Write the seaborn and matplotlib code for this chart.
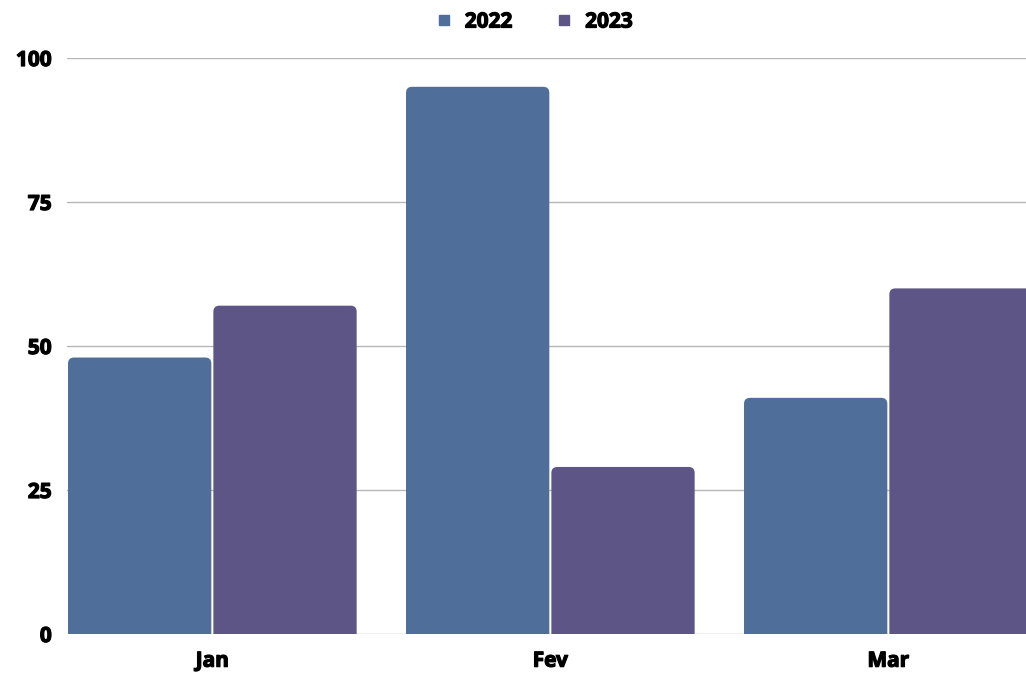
import matplotlib
matplotlib.use("Agg")
import matplotlib.pyplot as plt
import matplotlib.patheffects as pe
import seaborn as sns
import pandas as pd
from matplotlib.patches import FancyBboxPatch
from matplotlib.lines import Line2D
from matplotlib.font_manager import FontProperties

months = ["Jan", "Fev", "Mar"]
values_2022 = [48, 95, 41]
values_2023 = [57, 29, 60]
years = ["2022", "2023"]
y_ticks = [0, 25, 50, 75, 100]

colors = {"2022": "#4f6e99", "2023": "#5e5587"}

df = pd.DataFrame({
    "month": months * 2,
    "year": [years[0]] * 3 + [years[1]] * 3,
    "value": values_2022 + values_2023,
})

sns.set_style("white")
plt.rcParams["font.family"] = ["Open Sans", "DejaVu Sans"]
plt.rcParams["text.color"] = "black"

fp = FontProperties(family=["Open Sans", "DejaVu Sans"], weight="bold",
                    stretch="normal", size=15)
thick = [pe.withStroke(linewidth=0.9, foreground="black")]

fig = plt.figure(figsize=(10.26, 6.73), dpi=100)
ax = fig.add_axes([67 / 1026, 39 / 673, 959 / 1026, 576 / 673])

sns.barplot(data=df, x="month", y="value", hue="year", palette=colors,
            width=0.86, ax=ax, legend=False, saturation=1)

# swap plain bars for bars with rounded tops
r_px_x, r_px_y = 6 / 338, 6 / 5.76
for p in list(ax.patches):
    x, w, h = p.get_x(), p.get_width(), p.get_height()
    fc = p.get_facecolor()
    p.set_visible(False)
    rb = FancyBboxPatch((x + 0.003, -r_px_y * 2), w - 0.006, h + r_px_y * 2,
                        boxstyle=f"round,pad=0,rounding_size={r_px_x}",
                        mutation_aspect=r_px_y / r_px_x,
                        facecolor=fc, edgecolor="none", zorder=3)
    ax.add_patch(rb)

ax.set_xlim(-0.43, -0.43 + 959 / 338)
ax.set_ylim(0, 100)
ax.set_yticks(y_ticks)
ax.grid(axis="y", color="#b7b7b7", linewidth=1)
ax.set_axisbelow(True)
for s in ax.spines.values():
    s.set_visible(False)
ax.tick_params(axis="y", length=0, pad=11, labelcolor="black")
ax.tick_params(axis="x", length=0, pad=12, labelcolor="black")
for lab in ax.get_xticklabels() + ax.get_yticklabels():
    lab.set_fontproperties(fp)
    lab.set_path_effects(thick)
ax.set_xlabel("")
ax.set_ylabel("")

handles = [Line2D([], [], marker="s", linestyle="none", markersize=7.5,
                  markerfacecolor=colors[y], markeredgecolor=colors[y]) for y in years]
leg = fig.legend(handles, years, loc="center", bbox_to_anchor=(533 / 1026, 1 - 22 / 673),
                 ncol=2, frameon=False, prop=fp,
                 handletextpad=0.5, columnspacing=2.0, handlelength=1.0)
for t in leg.get_texts():
    t.set_path_effects(thick)

fig.savefig("out.png", dpi=100)
